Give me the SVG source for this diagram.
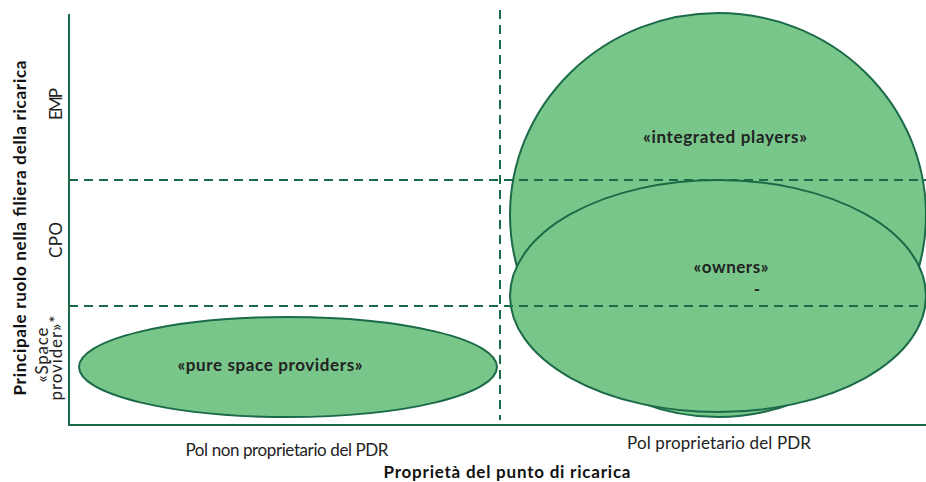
<svg xmlns="http://www.w3.org/2000/svg" width="926" height="482" viewBox="0 0 926 482">
<style>
.bub{fill:#78c68a;stroke:#1b6a48;stroke-width:2}
.dash{stroke:#1b6a48;stroke-width:2;stroke-dasharray:9,6;fill:none}
.axis{stroke:#1b6a48;stroke-width:2;fill:none}
.lbl{font-family:Lato,"Liberation Sans",sans-serif;font-size:17px;fill:#222;font-weight:bold}
.ax{font-family:Lato,"Liberation Sans",sans-serif;font-size:17px;fill:#222}
.axb{font-family:Lato,"Liberation Sans",sans-serif;font-size:17px;fill:#111;font-weight:bold}
</style>
<rect width="926" height="482" fill="#fff"/>
<g id="integrated-players">
<ellipse class="bub" cx="718" cy="215" rx="208" ry="202"/>
<text class="lbl" x="725" y="143" text-anchor="middle" textLength="164">«integrated players»</text>
</g>
<g id="owners">
<ellipse class="bub" cx="718" cy="296" rx="208" ry="116"/>
<text class="lbl" x="731" y="273" text-anchor="middle" textLength="75">«owners»</text>
<text class="lbl" x="757" y="295" text-anchor="middle">-</text>
</g>
<g id="pure-space-providers">
<ellipse class="bub" cx="288" cy="367" rx="209" ry="50"/>
<text class="lbl" x="270" y="371" text-anchor="middle" textLength="185">«pure space providers»</text>
</g>
<g id="connectors">
<line class="dash" x1="500" y1="10" x2="500" y2="420"/>
<line class="dash" x1="69" y1="180" x2="926" y2="180"/>
<line class="dash" x1="69" y1="306" x2="926" y2="306"/>
<polyline class="axis" points="69,14 69,425 926,425"/>
<line class="axis" x1="69" y1="180" x2="78" y2="180"/>
<line class="axis" x1="69" y1="306" x2="78" y2="306"/>
</g>
<g id="axis-labels">
<text class="ax" x="287" y="456" text-anchor="middle" textLength="203">Pol non proprietario del PDR</text>
<text class="ax" x="719" y="449" text-anchor="middle" textLength="184">Pol proprietario del PDR</text>
<text class="axb" x="507" y="478" text-anchor="middle" textLength="247">Proprietà del punto di ricarica</text>
<text class="axb" transform="translate(26,228) rotate(-90)" text-anchor="middle" textLength="335">Principale ruolo nella filiera della ricarica</text>
<text class="ax" transform="translate(62,104) rotate(-90)" text-anchor="middle" textLength="32">EMP</text>
<text class="ax" transform="translate(62,240) rotate(-90)" text-anchor="middle" textLength="36">CPO</text>
<text class="ax" transform="translate(48,355) rotate(-90)" text-anchor="middle" textLength="55">«Space</text>
<text class="ax" transform="translate(62,358) rotate(-90)" text-anchor="middle" textLength="85">provider»*</text>
</g>
</svg>
